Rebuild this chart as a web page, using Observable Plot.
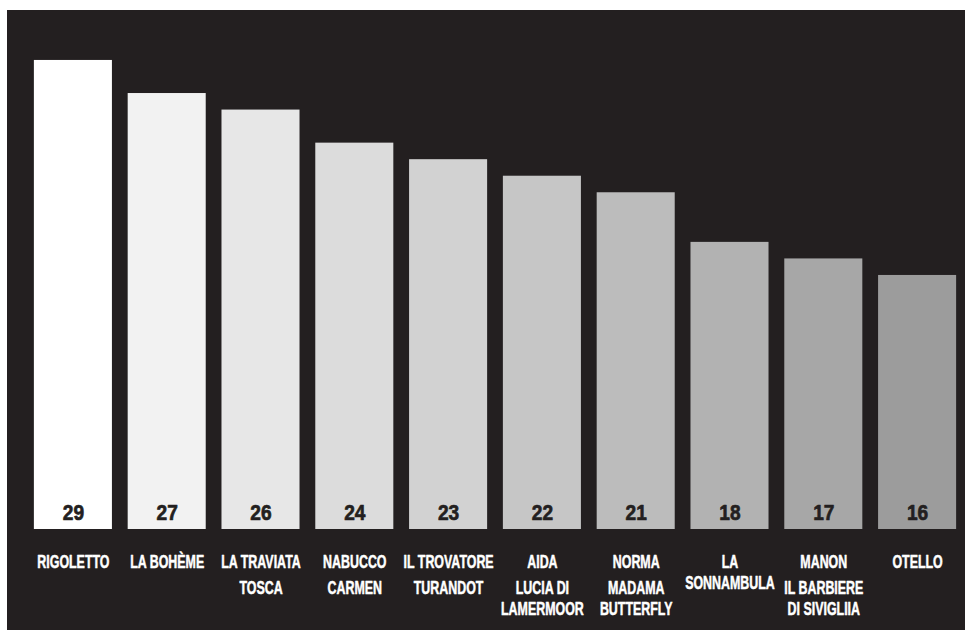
<!DOCTYPE html>
<html>
<head>
<meta charset="utf-8">
<script src="https://cdn.jsdelivr.net/npm/d3@7"></script>
<script src="https://cdn.jsdelivr.net/npm/@observablehq/plot@0.6"></script>
<style>
  html, body { margin: 0; padding: 0; background: #ffffff; }
  #panel { position: absolute; left: 7px; top: 10px; width: 958px; height: 620px; background: #231f20; }
  #panel svg { display: block; }
</style>
</head>
<body>
<div id="panel"></div>
<script>
// Number of productions per opera (bars, left to right)
const values = [29, 27, 26, 24, 23, 22, 21, 18, 17, 16];
// Titles sharing each bar; "\n" marks a wrapped line within one title
const titles = [
  ["RIGOLETTO"],
  ["LA BOHÈME"],
  ["LA TRAVIATA", "TOSCA"],
  ["NABUCCO", "CARMEN"],
  ["IL TROVATORE", "TURANDOT"],
  ["AIDA", "LUCIA DI\nLAMERMOOR"],
  ["NORMA", "MADAMA\nBUTTERFLY"],
  ["LA\nSONNAMBULA"],
  ["MANON", "IL BARBIERE\nDI SIVIGLIIA"],
  ["OTELLO"]
];
// Bar shades, white to grey
const shades = ["#ffffff", "#f2f2f2", "#e7e7e7", "#dcdcdc", "#d2d2d2", "#c6c6c6", "#bcbcbc", "#b2b2b2", "#a7a7a7", "#9c9c9c"];

const keys = titles.map(t => t.join(" / "));
const data = values.map((v, i) => ({key: keys[i], value: v, color: shades[i]}));

// label lines: gap between titles 26px, between wrapped lines 21px
const lines = [];
titles.forEach((ts, i) => {
  let off = 0;
  ts.forEach((t, j) => {
    if (j > 0) off += 26;
    t.split("\n").forEach((part, k) => {
      if (k > 0) off += 21;
      lines.push({key: keys[i], text: part, off});
    });
  });
});
const offsets = Array.from(new Set(lines.map(l => l.off)));

const font = "'Liberation Sans', Arial, sans-serif";

const chart = Plot.plot({
  width: 958,
  height: 620,
  marginLeft: 19,
  marginRight: 1,
  marginTop: 0,
  marginBottom: 101,
  x: {domain: keys, paddingInner: 0.168, paddingOuter: 0.084, round: false, axis: null},
  y: {domain: [0.64, 32.02], clamp: true, axis: null},
  color: {type: "identity"},
  style: {background: "transparent", fontFamily: font, overflow: "visible"},
  marks: [
    Plot.barY(data, {x: "key", y: "value", fill: "color"}),
    Plot.text(data, {
      x: "key", text: d => String(d.value), frameAnchor: "bottom", dy: -10,
      lineAnchor: "bottom", fill: "#231f20", stroke: "#231f20", strokeWidth: 0.7,
      fontSize: 22.5, fontWeight: "bold", className: "num-label"
    }),
    ...offsets.map(off => Plot.text(lines.filter(l => l.off === off), {
      x: "key", text: "text", frameAnchor: "bottom", dy: 38 + off,
      lineAnchor: "bottom", fill: "#ffffff", stroke: "#ffffff", strokeWidth: 0.5,
      fontSize: 17.5, fontWeight: "bold", className: "title-label"
    }))
  ]
});
document.getElementById("panel").appendChild(chart);

// condense text horizontally around its anchor (narrow typeface look)
function condense(selector, sx) {
  chart.querySelectorAll(selector).forEach(el => {
    const t = el.getAttribute("transform");
    if (t) {
      el.setAttribute("transform", t + ` scale(${sx},1)`);
    } else {
      const x = +el.getAttribute("x") || 0, y = +el.getAttribute("y") || 0;
      el.setAttribute("transform", `translate(${x},${y}) scale(${sx},1) translate(${-x},${-y})`);
    }
  });
}
condense(".title-label text", 0.71);
condense(".num-label text", 0.85);
</script>
</body>
</html>
